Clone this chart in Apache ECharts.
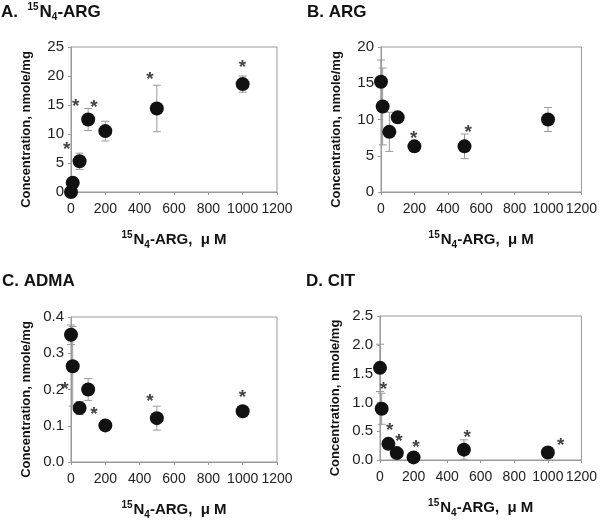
<!DOCTYPE html>
<html>
<head>
<meta charset="utf-8">
<script src="https://cdn.jsdelivr.net/npm/echarts@6/dist/echarts.min.js"></script>
<style>html,body{margin:0;padding:0;background:#fff;}#c{width:600px;height:521px;}</style>
</head>
<body>
<div id="c"></div>
<script>
// ---- data ----
const doses = [0, 10, 50, 100, 200, 500, 1000];

const argLabeledMean = [0, 1.6, 5.3, 12.5, 10.5, 14.4, 18.6];
const argLabeledErr  = [0.3, 0.4, 1.4, 1.9, 1.7, 4.0, 1.4];

const argMean = [15.2, 11.8, 8.3, 10.3, 6.3, 6.3, 10.0];
const argErr  = [3.0, 5.3, 2.7, 0.5, 0.4, 1.7, 1.65];

const admaMean = [0.351, 0.264, 0.149, 0.200, 0.101, 0.121, 0.140];
const admaErr  = [0.027, 0.11, 0.018, 0.03, 0.005, 0.033, 0.008];

const citMean = [1.6, 0.89, 0.28, 0.12, 0.045, 0.18, 0.13];
const citErr  = [0.41, 0.27, 0.05, 0.03, 0.02, 0.17, 0.05];

// asterisk (significance) marker positions [dose, concentration]
const starsA = [[-25, 8.1], [27, 15.6], [134, 15.3], [460, 20.2], [998, 22.2]];
const starsB = [[196, 8.1], [522, 8.8]];
const starsC = [[-35, 0.212], [134, 0.143], [460, 0.179], [998, 0.19]];
const starsD = [[20, 1.31], [58, 0.6], [113, 0.41], [214, 0.3], [519, 0.47], [1077, 0.33]];

const xTicks = [0, 200, 400, 600, 800, 1000, 1200];
const yAxesSpec = [
  {min: 0, max: 25, interval: 5, dec: 0},
  {min: 0, max: 20, interval: 5, dec: 0},
  {min: 0, max: 0.4, interval: 0.1, dec: 1},
  {min: 0, max: 2.5, interval: 0.5, dec: 1}
];

const panelTitles = [
  '{b|A.  }{sup|15}{b|N}{sub|4}{b|-ARG}',
  '{b|B. ARG}',
  '{b|C. ADMA}',
  '{b|D. CIT}'
];

// ---- chart ----
const FONT = 'Liberation Sans, Arial, sans-serif';
const grids = [
  {left: 71, top: 47, width: 206, height: 145},
  {left: 381, top: 47, width: 205, height: 145},
  {left: 71, top: 317, width: 206, height: 145},
  {left: 380, top: 316, width: 206, height: 144}
];
const titlePos = [[1, 2], [307, 2], [2, 271], [306, 271]];

function richSet(big, small) {
  return {
    b: {fontSize: big, fontWeight: 'bold', fontFamily: FONT, color: '#111', lineHeight: 20},
    sup: {fontSize: small, fontWeight: 'bold', fontFamily: FONT, color: '#111', verticalAlign: 'top', lineHeight: 20, padding: [0, 1, 7, 0]},
    sub: {fontSize: small, fontWeight: 'bold', fontFamily: FONT, color: '#111', verticalAlign: 'bottom', lineHeight: 20, padding: [7, 0, 0, 0]}
  };
}

const means = [argLabeledMean, argMean, admaMean, citMean];
const errs = [argLabeledErr, argErr, admaErr, citErr];
const stars = [starsA, starsB, starsC, starsD];

const option = {
  backgroundColor: '#fff',
  animation: false,
  title: panelTitles.map((t, i) => ({
    text: t, left: titlePos[i][0], top: titlePos[i][1], padding: 0,
    textStyle: {rich: richSet(17, 10)}
  })),
  grid: grids.map(g => Object.assign({show: true, borderColor: '#999', borderWidth: 1, backgroundColor: 'transparent'}, g)),
  xAxis: grids.map((g, i) => ({
    type: 'value', gridIndex: i, min: 0, max: 1200, interval: 200,
    name: '{sup|15}{b|N}{sub|4}{b|-ARG,  μ M}',
    nameLocation: 'middle', nameGap: 38,
    nameTextStyle: {rich: richSet(15, 10)},
    axisLine: {show: true, lineStyle: {color: '#999', width: 1}},
    axisTick: {show: true, length: 3, lineStyle: {color: '#999'}},
    splitLine: {show: false},
    axisLabel: {color: '#222', fontSize: 14, fontFamily: FONT, margin: 10,
      formatter: v => String(v)}
  })),
  yAxis: grids.map((g, i) => ({
    type: 'value', gridIndex: i,
    min: yAxesSpec[i].min, max: yAxesSpec[i].max, interval: yAxesSpec[i].interval,
    name: 'Concentration, nmole/mg',
    nameLocation: 'middle', nameGap: 38, nameRotate: 90,
    nameTextStyle: {fontSize: 13, fontWeight: 'bold', fontFamily: FONT, color: '#111', padding: [0, 20, 0, 0]},
    axisLine: {show: true, lineStyle: {color: '#999', width: 1}},
    axisTick: {show: true, length: 3, lineStyle: {color: '#999'}},
    splitLine: {show: false},
    axisLabel: {color: '#222', fontSize: 15, fontFamily: FONT, margin: 7,
      formatter: v => v.toFixed(yAxesSpec[i].dec)}
  })),
  series: []
};

for (let i = 0; i < 4; i++) {
  option.series.push({
    type: 'custom', xAxisIndex: i, yAxisIndex: i, clip: false, z: 1,
    data: doses.map((d, k) => [d, means[i][k], errs[i][k]]),
    renderItem: function (params, api) {
      const x = api.value(0), y = api.value(1), e = api.value(2);
      const top = api.coord([x, y + e]);
      const bot = api.coord([x, y - e]);
      const c = 4;
      const st = {stroke: '#999', lineWidth: 1};
      return {type: 'group', children: [
        {type: 'line', shape: {x1: top[0], y1: top[1], x2: bot[0], y2: bot[1]}, style: st},
        {type: 'line', shape: {x1: top[0] - c, y1: top[1], x2: top[0] + c, y2: top[1]}, style: st},
        {type: 'line', shape: {x1: bot[0] - c, y1: bot[1], x2: bot[0] + c, y2: bot[1]}, style: st}
      ]};
    }
  });
  option.series.push({
    type: 'scatter', xAxisIndex: i, yAxisIndex: i, clip: false, z: 3,
    symbol: 'circle', symbolSize: 14,
    itemStyle: {color: '#111', opacity: 1},
    data: doses.map((d, k) => [d, means[i][k]])
  });
  option.series.push({
    type: 'scatter', xAxisIndex: i, yAxisIndex: i, clip: false, z: 4,
    symbolSize: 0, silent: true,
    data: stars[i],
    label: {show: true, position: 'inside', formatter: '*', fontSize: 19, fontWeight: 'bold',
      fontFamily: FONT, color: '#111', offset: [0, 5]}
  });
}

const chart = echarts.init(document.getElementById('c'), null, {renderer: 'canvas'});
chart.setOption(option);
</script>
</body>
</html>
